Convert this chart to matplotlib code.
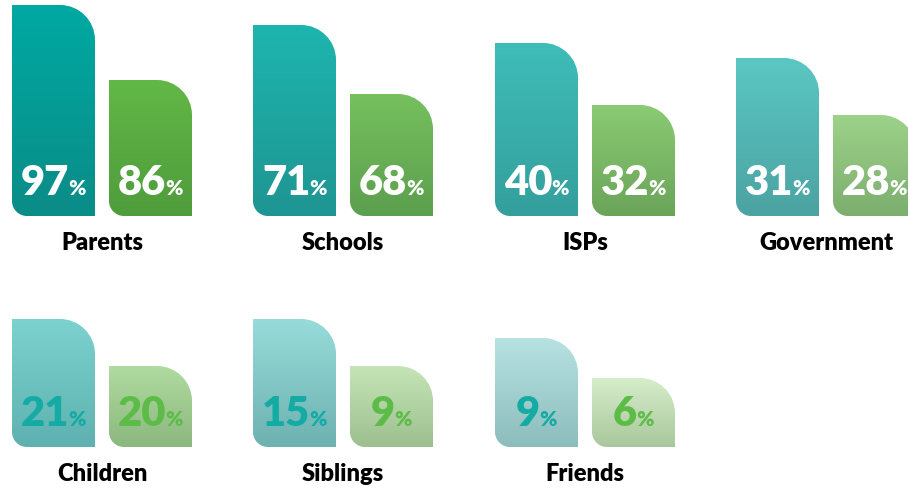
import matplotlib
matplotlib.use("Agg")
import matplotlib.pyplot as plt
import numpy as np
from matplotlib.path import Path
from matplotlib.patches import PathPatch
from matplotlib.colors import to_rgb

# ---- data ----
categories = ["Parents", "Schools", "ISPs", "Government", "Children", "Siblings", "Friends"]
teal_values = [97, 71, 40, 31, 21, 15, 9]
green_values = [86, 68, 32, 28, 20, 9, 6]
# drawn bar heights (decorative, in pixels)
teal_heights = [211, 191, 173, 158, 128, 128, 109]
green_heights = [136, 122, 111, 101, 81, 81, 69]

# ---- styles ----
teal_top = ["#00a9a2", "#1fb5af", "#3fbdb8", "#5bc7c3", "#7cd2ce", "#97dcd9", "#b6e3e2"]
teal_bot = ["#0b8c87", "#1e9592", "#349f9c", "#4ba3a2", "#5eb1b0", "#6db2b0", "#8dbcbc"]
green_top = ["#62b846", "#76c05e", "#8bcb73", "#9dd289", "#b0dba0", "#c5e5b6", "#d6edcb"]
green_bot = ["#4f9c3c", "#5c9f4e", "#6aa459", "#7cae6e", "#8bb87f", "#9dbf90", "#a9c79c"]
white_text_rows = [True, False]
teal_text = "#14aba4"
green_text = "#5cbc47"

W, H = 908, 493
fig = plt.figure(figsize=(W / 100, H / 100), dpi=100)
ax = fig.add_axes([0, 0, 1, 1])

col_left = [12, 253, 495, 736]
row_base = [216, 447]
bar_w = 83
green_off = 97
r_tr = 35
r_bl = 15
K = 0.5523


def bar_path(x0, x1, ytop, ybot):
    verts = [
        (x0, ytop),
        (x1 - r_tr, ytop),
        (x1 - r_tr + K * r_tr, ytop), (x1, ytop + r_tr - K * r_tr), (x1, ytop + r_tr),
        (x1, ybot),
        (x0 + r_bl, ybot),
        (x0 + r_bl - K * r_bl, ybot), (x0, ybot - r_bl + K * r_bl), (x0, ybot - r_bl),
        (x0, ytop),
    ]
    codes = [Path.MOVETO, Path.LINETO,
             Path.CURVE4, Path.CURVE4, Path.CURVE4,
             Path.LINETO, Path.LINETO,
             Path.CURVE4, Path.CURVE4, Path.CURVE4,
             Path.CLOSEPOLY]
    return Path(verts, codes)


def draw_bar(x0, ybot, h, ctop, cbot):
    x1 = x0 + bar_w
    ytop = ybot - h
    patch = PathPatch(bar_path(x0, x1, ytop, ybot), facecolor="none", edgecolor="none")
    ax.add_patch(patch)
    n = 256
    t = np.linspace(0, 1, n)[:, None, None]
    c0 = np.array(to_rgb(ctop))[None, None, :]
    c1 = np.array(to_rgb(cbot))[None, None, :]
    grad = c0 * (1 - t) + c1 * t
    im = ax.imshow(grad, extent=[x0, x1, ybot, ytop], origin="upper",
                   aspect="auto", interpolation="bilinear", zorder=2)
    im.set_clip_path(patch)


renderer = fig.canvas.get_renderer()
num_font = dict(family=["Lato", "DejaVu Sans"], weight="heavy")


def draw_value(cx, baseline, value, color):
    t1 = ax.text(0, baseline, str(value), fontsize=30, color=color,
                 ha="left", va="baseline", zorder=5, **num_font)
    t2 = ax.text(0, baseline, "%", fontsize=15, color=color,
                 ha="left", va="baseline", zorder=5, **num_font)
    w1 = t1.get_window_extent(renderer).width
    w2 = t2.get_window_extent(renderer).width
    gap = -1
    start = cx - (w1 + gap + w2) / 2
    t1.set_x(start)
    t2.set_x(start + w1 + gap)


for i, cat in enumerate(categories):
    row, col = divmod(i, 4)
    x0 = col_left[col]
    yb = row_base[row]
    draw_bar(x0, yb, teal_heights[i], teal_top[i], teal_bot[i])
    draw_bar(x0 + green_off, yb, green_heights[i], green_top[i], green_bot[i])
    if white_text_rows[row]:
        ct, cg = "white", "white"
    else:
        ct, cg = teal_text, green_text
    draw_value(x0 + bar_w / 2, yb - 21, teal_values[i], ct)
    draw_value(x0 + green_off + bar_w / 2, yb - 21, green_values[i], cg)
    ax.text(x0 + (green_off + bar_w) / 2, yb + 34, cat, fontsize=17,
            family=["Lato", "DejaVu Sans"], weight="heavy", color="black",
            ha="center", va="baseline")

ax.set_xlim(0, W)
ax.set_ylim(H, 0)
ax.axis("off")
fig.savefig("out.png", dpi=100)
